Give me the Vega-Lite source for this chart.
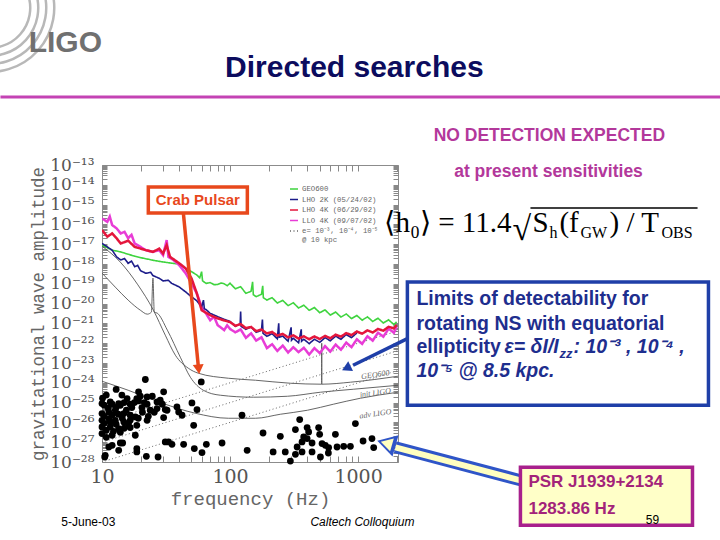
{
"$schema": "https://vega.github.io/schema/vega-lite/v6.json",
"width": 296, "height": 297,
"autosize": {"type": "none"},
"padding": {"left": 102, "top": 165, "right": 322, "bottom": 78},
"background": "white",
"config": {"view": {"stroke": "#8c8c8c", "strokeWidth": 1}},
"datasets": {
"rings": [{"ring":1,"f":1.34,"h":8.65e-6},{"ring":2,"f":1.34,"h":8.65e-6},{"ring":3,"f":1.34,"h":8.65e-6},{"ring":4,"f":1.34,"h":8.65e-6}],
"segments": [
{"kind":"header","f":1.61,"f2":6.76e5,"h":2.74e-10,"h2":2.74e-10},
{"kind":"overline","f":2.219e4,"f2":4.48e5,"h":6.7e-16,"h2":6.7e-16},
{"kind":"crab","f":43.2,"f2":56.5,"h":3.74e-16,"h2":6.89e-24},
{"kind":"ns","f":2563,"f2":914,"h":2.01e-22,"h2":7.74e-24},
{"kind":"psr","f":1.853e4,"f2":1956,"h":1.19e-29,"h2":5.53e-28}
],
"heads": [
{"kind":"crab","f":56.9,"h":4.86e-24},
{"kind":"ns","f":810,"h":5.46e-24},
{"kind":"psr","f":1664,"h":8.81e-28}
],
"boxes": [
{"kind":"crab","f":23.0,"f2":136.5,"h":7.73e-15,"h2":3.74e-16},
{"kind":"ns","f":2427,"f2":5.45e5,"h":1.22e-19,"h2":7.35e-26},
{"kind":"psr","f":1.853e4,"f2":4.09e5,"h":5.4e-29,"h2":6.3e-32}
],
"notes": [
{"kind":"logo","f":5.17,"h":1.47e-7,"text":"LIGO"},
{"kind":"title","f":935,"h":8.0e-9,"text":"Directed searches"},
{"kind":"headline","f":3.12e4,"h":2.92e-12,"text":"NO DETECTION EXPECTED"},
{"kind":"headline","f":3.07e4,"h":4.43e-14,"text":"at present sensitivities"},
{"kind":"formula","f":1605,"h":4.1e-17,"text":"⟨h₀⟩ = 11.4"},
{"kind":"formula","f":2.3e4,"h":4.1e-17,"text":"S"},
{"kind":"formula","f":3.739e4,"h":4.1e-17,"text":"(f"},
{"kind":"formula","f":9.19e4,"h":4.1e-17,"text":") / T"},
{"kind":"radical","f":1.605e4,"h":1.61e-17,"text":"√"},
{"kind":"fsub","f":3.123e4,"h":2.04e-17,"text":"h"},
{"kind":"fsub","f":5.453e4,"h":2.04e-17,"text":"GW"},
{"kind":"fsub","f":2.342e5,"h":2.04e-17,"text":"OBS"},
{"kind":"crab","f":56.0,"h":1.7e-15,"text":"Crab Pulsar"},
{"kind":"nsbold","f":2855,"h":8.36e-21,"text":"Limits of detectability for"},
{"kind":"nsbold","f":2855,"h":4.55e-22,"text":"rotating NS with equatorial"},
{"kind":"nsbold","f":2855,"h":3.13e-23,"text":"ellipticity"},
{"kind":"nsital","f":1.39e4,"h":3.13e-23,"text":"ε= δI/I"},
{"kind":"nsital","f":4.81e4,"h":3.13e-23,"text":": 10⁻³ , 10⁻⁴ ,"},
{"kind":"nsital","f":2855,"h":1.91e-24,"text":"10⁻⁵ @ 8.5 kpc."},
{"kind":"nssub","f":3.74e4,"h":1.75e-23,"text":"zz"},
{"kind":"psr","f":2.14e4,"h":5.26e-30,"text":"PSR J1939+2134"},
{"kind":"psr","f":2.14e4,"h":2.27e-31,"text":"1283.86 Hz"},
{"kind":"foot","f":7.82,"h":8.93e-32,"text":"5-June-03"},
{"kind":"foot","f":1.99e5,"h":1.13e-31,"text":"59"},
{"kind":"footi","f":1081,"h":8.93e-32,"text":"Caltech Colloquium"},
{"kind":"dlabel","f":1365,"h":2.42e-24,"text":"GEO600"},
{"kind":"dlabel","f":1365,"h":2.97e-25,"text":"init LIGO"},
{"kind":"dlabel","f":1365,"h":2.58e-26,"text":"adv LIGO"}
],
"design": [
{"curve":"geo","f":10,"h":8.0e-18},{"curve":"geo","f":13.9,"h":1.25e-18},{"curve":"geo","f":18.9,"h":9.6e-20},{"curve":"geo","f":25.2,"h":4.67e-21},{"curve":"geo","f":31.2,"h":2.54e-22},{"curve":"geo","f":37.4,"h":2.48e-23},{"curve":"geo","f":47.2,"h":5.46e-24},{"curve":"geo","f":56.5,"h":3.05e-24},{"curve":"geo","f":97,"h":1.7e-24},{"curve":"geo","f":158,"h":1.35e-24},{"curve":"geo","f":296,"h":9.5e-25},{"curve":"geo","f":517,"h":8.5e-25},{"curve":"geo","f":519,"h":8.5e-25},{"curve":"geo","f":520,"h":1e-22},{"curve":"geo","f":521,"h":8.5e-25},{"curve":"geo","f":871,"h":1.07e-24},{"curve":"geo","f":2050,"h":2.15e-24},
{"curve":"init","f":10,"h":3.47e-19},{"curve":"init","f":12.7,"h":6.79e-20},{"curve":"init","f":16,"h":1.5e-20},{"curve":"init","f":19.9,"h":4.67e-21},{"curve":"init","f":22.6,"h":2.93e-21},{"curve":"init","f":24.3,"h":3.7e-21},{"curve":"init","f":25.0,"h":1.94e-19},{"curve":"init","f":25.6,"h":3.7e-21},{"curve":"init","f":27,"h":3.3e-21},{"curve":"init","f":32.4,"h":4.55e-22},{"curve":"init","f":40.9,"h":1.96e-23},{"curve":"init","f":49,"h":1.91e-24},{"curve":"init","f":61.8,"h":4.22e-25},{"curve":"init","f":83.9,"h":2.36e-25},{"curve":"init","f":152,"h":1.87e-25},{"curve":"init","f":281,"h":2.09e-25},{"curve":"init","f":508,"h":3.34e-25},{"curve":"init","f":918,"h":4.73e-25},{"curve":"init","f":2050,"h":7.5e-25},
{"curve":"adv","f":10,"h":1.2e-24},{"curve":"adv","f":16,"h":4.22e-25},{"curve":"adv","f":29.6,"h":9.3e-26},{"curve":"adv","f":53.6,"h":2.9e-26},{"curve":"adv","f":97,"h":1.62e-26},{"curve":"adv","f":158,"h":1.62e-26},{"curve":"adv","f":247,"h":2.58e-26},{"curve":"adv","f":402,"h":4.11e-26},{"curve":"adv","f":640,"h":8.26e-26},{"curve":"adv","f":1042,"h":1.66e-25},{"curve":"adv","f":2050,"h":3.34e-25}
],
"curves": [
{"series":"e","curve":"e3","f":10,"h":1e-26},{"series":"e","curve":"e3","f":2050,"h":4.2e-22},
{"series":"e","curve":"e4","f":10,"h":1e-27},{"series":"e","curve":"e4","f":2050,"h":4.2e-23},
{"series":"e","curve":"e5","f":10,"h":1e-28},{"series":"e","curve":"e5","f":2050,"h":4.2e-24},
{"series":"G","f":10,"h":8.9e-18},{"series":"G","f":12,"h":5.0e-18},{"series":"G","f":14,"h":4.1e-18},{"series":"G","f":16,"h":3.1e-18},{"series":"G","f":18,"h":2.5e-18},{"series":"G","f":20,"h":2.1e-18},{"series":"G","f":25,"h":1.55e-18},{"series":"G","f":30,"h":1.27e-18},{"series":"G","f":35,"h":1.1e-18},{"series":"G","f":40,"h":1.0e-18},{"series":"G","f":45,"h":6.0e-19},{"series":"G","f":50,"h":4.1e-19},{"series":"G","f":55,"h":2.8e-19},{"series":"G","f":58,"h":2.0e-19},{"series":"G","f":60,"h":4.1e-19},{"series":"G","f":61,"h":1.4e-19},{"series":"G","f":65,"h":1.05e-19},{"series":"G","f":70,"h":1.15e-19},{"series":"G","f":75,"h":9e-20},{"series":"G","f":80,"h":9.2e-20},{"series":"G","f":85,"h":1.1e-19},{"series":"G","f":90,"h":1.0e-19},{"series":"G","f":95,"h":8e-20},{"series":"G","f":100,"h":1.07e-19},{"series":"G","f":110,"h":5.6e-20},{"series":"G","f":121,"h":7.1e-20},{"series":"G","f":133,"h":3.3e-20},{"series":"G","f":146,"h":4.2e-20},{"series":"G","f":150,"h":1.26e-19},{"series":"G","f":152,"h":2.8e-20},{"series":"G","f":160,"h":2.24e-20},{"series":"G","f":176,"h":2.95e-20},{"series":"G","f":180,"h":7.9e-20},{"series":"G","f":182,"h":2.0e-20},{"series":"G","f":194,"h":1.51e-20},{"series":"G","f":213,"h":2.0e-20},{"series":"G","f":234,"h":1.07e-20},{"series":"G","f":258,"h":1.45e-20},{"series":"G","f":284,"h":7.9e-21},{"series":"G","f":312,"h":1.1e-20},{"series":"G","f":343,"h":6.0e-21},{"series":"G","f":377,"h":8.3e-21},{"series":"G","f":415,"h":4.57e-21},{"series":"G","f":456,"h":6.3e-21},{"series":"G","f":502,"h":3.47e-21},{"series":"G","f":552,"h":4.8e-21},{"series":"G","f":607,"h":2.63e-21},{"series":"G","f":668,"h":3.72e-21},{"series":"G","f":735,"h":2.09e-21},{"series":"G","f":808,"h":3.0e-21},{"series":"G","f":889,"h":1.74e-21},{"series":"G","f":978,"h":2.51e-21},{"series":"G","f":1076,"h":1.45e-21},{"series":"G","f":1183,"h":2.14e-21},{"series":"G","f":1301,"h":1.26e-21},{"series":"G","f":1431,"h":1.82e-21},{"series":"G","f":1575,"h":1.05e-21},{"series":"G","f":1732,"h":1.51e-21},{"series":"G","f":1905,"h":8.7e-22},{"series":"G","f":2000,"h":1.2e-21},
{"series":"L4","f":10,"h":2.0e-16},{"series":"L4","f":11,"h":1.35e-16},{"series":"L4","f":11.5,"h":2.5e-16},{"series":"L4","f":12,"h":9.3e-17},{"series":"L4","f":13,"h":6.3e-17},{"series":"L4","f":14,"h":3.5e-17},{"series":"L4","f":15,"h":4.2e-17},{"series":"L4","f":16,"h":2.0e-17},{"series":"L4","f":17,"h":3.0e-17},{"series":"L4","f":18,"h":1.08e-17},{"series":"L4","f":20,"h":7.3e-18},{"series":"L4","f":22,"h":5.0e-18},{"series":"L4","f":25,"h":4.1e-18},{"series":"L4","f":28,"h":5.0e-18},{"series":"L4","f":30,"h":2.8e-18},{"series":"L4","f":32,"h":1.6e-17},{"series":"L4","f":33,"h":2.3e-18},{"series":"L4","f":36,"h":1.6e-18},{"series":"L4","f":40,"h":8.9e-19},{"series":"L4","f":45,"h":3.4e-19},{"series":"L4","f":50,"h":1.05e-19},{"series":"L4","f":55,"h":3.3e-20},{"series":"L4","f":60,"h":6.8e-21},{"series":"L4","f":65,"h":3.1e-21},{"series":"L4","f":70,"h":1.45e-21},{"series":"L4","f":75,"h":2.2e-21},{"series":"L4","f":80,"h":8.2e-22},{"series":"L4","f":90,"h":4.6e-22},{"series":"L4","f":95,"h":8e-22},{"series":"L4","f":100,"h":5.25e-22},{"series":"L4","f":110,"h":3.55e-22},{"series":"L4","f":121,"h":5.0e-22},{"series":"L4","f":133,"h":1.86e-22},{"series":"L4","f":146,"h":3.16e-22},{"series":"L4","f":160,"h":1.35e-22},{"series":"L4","f":176,"h":2.0e-22},{"series":"L4","f":194,"h":5.62e-23},{"series":"L4","f":213,"h":8.9e-23},{"series":"L4","f":234,"h":4.07e-23},{"series":"L4","f":258,"h":7.6e-23},{"series":"L4","f":284,"h":3.39e-23},{"series":"L4","f":312,"h":6.3e-23},{"series":"L4","f":343,"h":3.55e-23},{"series":"L4","f":377,"h":5.9e-23},{"series":"L4","f":415,"h":2.69e-23},{"series":"L4","f":456,"h":5.62e-23},{"series":"L4","f":502,"h":3.16e-23},{"series":"L4","f":552,"h":7.08e-23},{"series":"L4","f":607,"h":3.8e-23},{"series":"L4","f":668,"h":8.5e-23},{"series":"L4","f":735,"h":4.68e-23},{"series":"L4","f":808,"h":1.07e-22},{"series":"L4","f":889,"h":6.3e-23},{"series":"L4","f":978,"h":1.58e-22},{"series":"L4","f":1076,"h":9.3e-23},{"series":"L4","f":1183,"h":2.24e-22},{"series":"L4","f":1301,"h":1.35e-22},{"series":"L4","f":1431,"h":3.39e-22},{"series":"L4","f":1575,"h":2.14e-22},{"series":"L4","f":1732,"h":5.37e-22},{"series":"L4","f":1905,"h":3.39e-22},{"series":"L4","f":2000,"h":6.76e-22},
{"series":"H2","f":10,"h":1.1e-17},{"series":"H2","f":11,"h":7.3e-18},{"series":"H2","f":12,"h":5.0e-18},{"series":"H2","f":13,"h":2.3e-18},{"series":"H2","f":14,"h":1.6e-18},{"series":"H2","f":15,"h":1.9e-18},{"series":"H2","f":16,"h":1.08e-18},{"series":"H2","f":17,"h":1.4e-18},{"series":"H2","f":18,"h":7.3e-19},{"series":"H2","f":19,"h":8.5e-19},{"series":"H2","f":20,"h":4.6e-19},{"series":"H2","f":22,"h":3.4e-19},{"series":"H2","f":24,"h":3.8e-19},{"series":"H2","f":25,"h":2.6e-19},{"series":"H2","f":28,"h":1.9e-19},{"series":"H2","f":30,"h":1.4e-19},{"series":"H2","f":33,"h":1.5e-19},{"series":"H2","f":35,"h":1.05e-19},{"series":"H2","f":40,"h":7.0e-20},{"series":"H2","f":45,"h":3.9e-20},{"series":"H2","f":50,"h":2.2e-20},{"series":"H2","f":55,"h":1.4e-20},{"series":"H2","f":60,"h":6.8e-21},{"series":"H2","f":62,"h":1.5e-20},{"series":"H2","f":63,"h":5.5e-21},{"series":"H2","f":65,"h":5.0e-21},{"series":"H2","f":70,"h":3.2e-21},{"series":"H2","f":80,"h":2.2e-21},{"series":"H2","f":90,"h":1.6e-21},{"series":"H2","f":100,"h":1.26e-21},{"series":"H2","f":110,"h":7.08e-22},{"series":"H2","f":120,"h":9.5e-22},{"series":"H2","f":121,"h":4.0e-21},{"series":"H2","f":122,"h":7.1e-22},{"series":"H2","f":133,"h":5.0e-22},{"series":"H2","f":146,"h":6.6e-22},{"series":"H2","f":160,"h":3.55e-22},{"series":"H2","f":176,"h":4.47e-22},{"series":"H2","f":179,"h":1.58e-21},{"series":"H2","f":181,"h":3.16e-22},{"series":"H2","f":194,"h":2.24e-22},{"series":"H2","f":213,"h":3.02e-22},{"series":"H2","f":234,"h":1.66e-22},{"series":"H2","f":240,"h":1.0e-21},{"series":"H2","f":242,"h":2.0e-22},{"series":"H2","f":258,"h":2.29e-22},{"series":"H2","f":284,"h":1.26e-22},{"series":"H2","f":300,"h":6.3e-22},{"series":"H2","f":302,"h":1.41e-22},{"series":"H2","f":312,"h":1.78e-22},{"series":"H2","f":343,"h":1.05e-22},{"series":"H2","f":360,"h":5.0e-22},{"series":"H2","f":362,"h":1.26e-22},{"series":"H2","f":377,"h":1.58e-22},{"series":"H2","f":415,"h":9.5e-23},{"series":"H2","f":456,"h":1.58e-22},{"series":"H2","f":502,"h":1.1e-22},{"series":"H2","f":552,"h":1.91e-22},{"series":"H2","f":607,"h":1.32e-22},{"series":"H2","f":668,"h":2.29e-22},{"series":"H2","f":735,"h":1.58e-22},{"series":"H2","f":808,"h":2.75e-22},{"series":"H2","f":889,"h":1.91e-22},{"series":"H2","f":978,"h":3.31e-22},
{"series":"H4","f":10,"h":5.2e-17},{"series":"H4","f":11,"h":2.4e-17},{"series":"H4","f":12,"h":3.5e-17},{"series":"H4","f":13,"h":2.0e-17},{"series":"H4","f":14,"h":1.08e-17},{"series":"H4","f":16,"h":1.5e-17},{"series":"H4","f":18,"h":7.3e-18},{"series":"H4","f":20,"h":6.0e-18},{"series":"H4","f":22,"h":5.0e-18},{"series":"H4","f":25,"h":4.1e-18},{"series":"H4","f":28,"h":6.0e-18},{"series":"H4","f":30,"h":3.4e-18},{"series":"H4","f":32,"h":9e-18},{"series":"H4","f":34,"h":2.3e-18},{"series":"H4","f":40,"h":1.1e-18},{"series":"H4","f":45,"h":6.0e-19},{"series":"H4","f":50,"h":1.9e-19},{"series":"H4","f":55,"h":3.3e-20},{"series":"H4","f":60,"h":4.6e-21},{"series":"H4","f":70,"h":2.6e-21},{"series":"H4","f":80,"h":1.8e-21},{"series":"H4","f":90,"h":1.4e-21},{"series":"H4","f":100,"h":1.17e-21},{"series":"H4","f":110,"h":7.6e-22},{"series":"H4","f":121,"h":9.3e-22},{"series":"H4","f":133,"h":5.75e-22},{"series":"H4","f":146,"h":6.6e-22},{"series":"H4","f":160,"h":4.07e-22},{"series":"H4","f":176,"h":4.9e-22},{"series":"H4","f":194,"h":3.09e-22},{"series":"H4","f":213,"h":3.7e-22},{"series":"H4","f":234,"h":2.4e-22},{"series":"H4","f":258,"h":2.95e-22},{"series":"H4","f":284,"h":1.95e-22},{"series":"H4","f":312,"h":2.51e-22},{"series":"H4","f":343,"h":1.7e-22},{"series":"H4","f":377,"h":2.24e-22},{"series":"H4","f":415,"h":1.58e-22},{"series":"H4","f":456,"h":2.19e-22},{"series":"H4","f":502,"h":1.62e-22},{"series":"H4","f":552,"h":2.34e-22},{"series":"H4","f":607,"h":1.78e-22},{"series":"H4","f":668,"h":2.69e-22},{"series":"H4","f":735,"h":2.14e-22},{"series":"H4","f":808,"h":3.24e-22},{"series":"H4","f":889,"h":2.57e-22},{"series":"H4","f":978,"h":3.89e-22},{"series":"H4","f":1076,"h":3.02e-22},{"series":"H4","f":1183,"h":4.47e-22},{"series":"H4","f":1301,"h":3.47e-22},{"series":"H4","f":1431,"h":5.25e-22},{"series":"H4","f":1575,"h":4.27e-22},{"series":"H4","f":1732,"h":6.76e-22},{"series":"H4","f":1905,"h":5.62e-22},{"series":"H4","f":2000,"h":8.3e-22}
],
"pulsars": [
{"f":21.8,"h":1.47e-24},{"f":59.6,"h":1.11e-24},{"f":12.9,"h":4.6e-25},{"f":19.3,"h":3.5e-25},{"f":30.3,"h":3.5e-25},{"f":14.3,"h":2.4e-25},{"f":15.7,"h":1.6e-25},{"f":10.0,"h":8.96e-26},{"f":11.6,"h":1.08e-25},{"f":13.5,"h":8.96e-26},{"f":19.3,"h":1.21e-25},{"f":22.5,"h":8.26e-26},{"f":26.9,"h":1.08e-25},{"f":28.5,"h":1.32e-25},{"f":50.4,"h":9.6e-26},{"f":38.5,"h":6.04e-26},{"f":55.2,"h":4.46e-26},{"f":31.2,"h":4.46e-26},{"f":17.1,"h":5.62e-26},{"f":20.5,"h":5.62e-26},{"f":23.8,"h":4.11e-26},{"f":26.9,"h":5.0e-26},{"f":39.7,"h":3.37e-26},{"f":10.0,"h":2.8e-26},{"f":11.3,"h":3.37e-26},{"f":12.7,"h":4.11e-26},{"f":14.8,"h":2.8e-26},{"f":16.6,"h":2.3e-26},{"f":18.2,"h":1.88e-26},{"f":30.3,"h":1.76e-26},{"f":22.5,"h":1.28e-26},{"f":124,"h":2.3e-26},{"f":10.0,"h":1.28e-26},{"f":11.3,"h":1.56e-26},{"f":12.7,"h":1.28e-26},{"f":14.8,"h":1.05e-26},{"f":16.1,"h":8.7e-27},{"f":18.7,"h":7.16e-27},{"f":10.0,"h":5.89e-27},{"f":11.6,"h":5.89e-27},{"f":13.5,"h":4.89e-27},{"f":52.0,"h":7.16e-27},{"f":10.0,"h":2.73e-27},{"f":12.0,"h":2.24e-27},{"f":18.2,"h":2.24e-27},{"f":33.1,"h":1.03e-27},{"f":35.2,"h":7.85e-28},{"f":43.4,"h":7.85e-28},{"f":65.3,"h":7.85e-28},{"f":86.6,"h":9.1e-28},{"f":11.3,"h":5.73e-28},{"f":12.0,"h":6.98e-28},{"f":14.5,"h":9.1e-28},{"f":13.5,"h":3.9e-28},{"f":18.7,"h":3.21e-28},{"f":52.6,"h":4.75e-28},{"f":60.4,"h":2.99e-28},{"f":136,"h":3.9e-28},{"f":10.5,"h":1.79e-28},{"f":22.2,"h":1.94e-28},{"f":27.4,"h":1.79e-28},
{"f":350,"h":1.39e-26},{"f":953,"h":8.7e-27},{"f":181,"h":2.92e-27},{"f":247,"h":1.99e-27},{"f":324,"h":4.35e-27},{"f":400,"h":5.48e-27},{"f":411,"h":3.29e-27},{"f":492,"h":5.48e-27},{"f":376,"h":1.84e-27},{"f":400,"h":1.52e-27},{"f":501,"h":2.51e-27},{"f":665,"h":2.51e-27},{"f":365,"h":1.03e-27},{"f":437,"h":9.1e-28},{"f":523,"h":8.5e-28},{"f":555,"h":6.98e-28},{"f":589,"h":5.35e-28},{"f":685,"h":5.73e-28},{"f":772,"h":6.22e-28},{"f":871,"h":6.22e-28},{"f":1094,"h":1.15e-27},{"f":1283.86,"h":1.52e-27},{"f":1324,"h":5.35e-28},{"f":334,"h":5.73e-28},{"f":365,"h":3.21e-28},{"f":324,"h":2.45e-28},{"f":437,"h":3.21e-28},{"f":508,"h":1.79e-28},{"f":586,"h":2.85e-28},{"f":217,"h":3.21e-28},{"f":270,"h":3.21e-28},{"f":296,"h":1.12e-28},
{"f":18.7,"h":1.6e-25},{"f":22.5,"h":1.93e-25},{"f":32.2,"h":4.11e-26},{"f":42.2,"h":2.3e-26},{"f":31.2,"h":1.03e-27},{"f":18.7,"h":4.75e-28},{"f":13.9,"h":9.1e-28},{"f":10.6,"h":2.18e-28},{"f":10.1,"h":1.66e-25},{"f":10.8,"h":2.4e-25},{"f":10.4,"h":7.36e-26},{"f":11.2,"h":5.19e-26},{"f":12.0,"h":8.26e-26},{"f":12.9,"h":5.8e-26},{"f":13.9,"h":7.36e-26},{"f":14.9,"h":1.0e-25},{"f":10.4,"h":2.04e-26},{"f":12.0,"h":2.3e-26},{"f":13.4,"h":2.58e-26},{"f":14.4,"h":1.62e-26},{"f":15.5,"h":4.11e-26},{"f":16.6,"h":8.26e-26},{"f":17.9,"h":1.0e-25},{"f":19.9,"h":2.09e-25},{"f":21.4,"h":1.0e-25},{"f":24.7,"h":2.09e-25},{"f":29.6,"h":8.26e-26},{"f":10.4,"h":9.0e-27},{"f":11.6,"h":1.02e-26},{"f":12.9,"h":8.05e-27},{"f":10.8,"h":4.01e-27},{"f":12.3,"h":3.56e-27},{"f":14.9,"h":5.06e-27},{"f":16.6,"h":5.5e-27},{"f":13.9,"h":3.18e-27},{"f":10.8,"h":1.77e-27},{"f":20.7,"h":3.26e-26},{"f":23.0,"h":2.04e-26},{"f":25.6,"h":3.26e-26},{"f":16.6,"h":1.28e-26},{"f":19.2,"h":1.62e-26}
]
},
"encoding": {
"x": {"field": "f", "type": "quantitative", "scale": {"type": "log", "domain": [10, 2050], "nice": false}, "axis": null},
"y": {"field": "h", "type": "quantitative", "scale": {"type": "log", "domain": [1e-28, 1e-13], "nice": false}, "axis": null}
},
"resolve": {"axis": {"x": "independent", "y": "independent"}},
"layer": [
{"data": {"name": "rings"}, "mark": {"type": "arc", "theta": 1.2, "theta2": 3.4, "filled": false, "color": "#b8b8b8", "strokeWidth": 2.5},
 "encoding": {"radius": {"field": "ring", "type": "quantitative", "scale": {"type": "linear", "zero": false, "domain": [1, 4], "range": [40, 64]}}, "radius2": {"field": "ring"}}},
{"data": {"name": "segments"}, "transform": [{"filter": "datum.kind == 'header'"}], "mark": {"type": "rule", "color": "#c443b4", "strokeWidth": 3}, "encoding": {"x2": {"field": "f2"}, "y2": {"field": "h2"}}},
{"data": {"name": "notes"}, "transform": [{"filter": "datum.kind == 'logo'"}], "mark": {"type": "text", "font": "Liberation Sans", "fontWeight": "bold", "fontSize": 30, "color": "#707070", "align": "center", "baseline": "middle"}, "encoding": {"text": {"field": "text"}}},
{"data": {"name": "notes"}, "transform": [{"filter": "datum.kind == 'title'"}], "mark": {"type": "text", "font": "Liberation Sans", "fontWeight": "bold", "fontSize": 30, "color": "#0c0c5e", "align": "center", "baseline": "middle"}, "encoding": {"text": {"field": "text"}}},
{"data": {"name": "notes"}, "transform": [{"filter": "datum.kind == 'headline'"}], "mark": {"type": "text", "font": "Liberation Sans", "fontWeight": "bold", "fontSize": 17.5, "color": "#b3389b", "align": "center", "baseline": "middle"}, "encoding": {"text": {"field": "text"}}},
{"data": {"name": "notes"}, "transform": [{"filter": "datum.kind == 'formula'"}], "mark": {"type": "text", "font": "Liberation Serif", "fontSize": 29, "color": "black", "align": "left", "baseline": "alphabetic"}, "encoding": {"text": {"field": "text"}}},
{"data": {"name": "notes"}, "transform": [{"filter": "datum.kind == 'radical'"}], "mark": {"type": "text", "font": "Liberation Serif", "fontSize": 34, "color": "black", "align": "left", "baseline": "alphabetic"}, "encoding": {"text": {"field": "text"}}},
{"data": {"name": "notes"}, "transform": [{"filter": "datum.kind == 'fsub'"}], "mark": {"type": "text", "font": "Liberation Serif", "fontSize": 16, "color": "black", "align": "left", "baseline": "alphabetic"}, "encoding": {"text": {"field": "text"}}},
{"data": {"name": "segments"}, "transform": [{"filter": "datum.kind == 'overline'"}], "mark": {"type": "rule", "color": "black", "strokeWidth": 1.5}, "encoding": {"x2": {"field": "f2"}, "y2": {"field": "h2"}}},
{"data": {"name": "design"}, "mark": {"type": "line", "color": "#555555", "strokeWidth": 0.9, "interpolate": "monotone", "clip": true},
 "encoding": {
  "x": {"field": "f", "type": "quantitative", "scale": {"type": "log", "domain": [10, 2050], "nice": false},
        "axis": {"orient": "top", "values": [10,20,30,40,50,60,70,80,90,100,200,300,400,500,600,700,800,900,1000,2000], "tickCount": 100, "labels": false, "tickSize": -6, "tickColor": "#888", "domain": false, "grid": false, "title": null}},
  "y": {"field": "h", "type": "quantitative", "scale": {"type": "log", "domain": [1e-28, 1e-13], "nice": false},
        "axis": {"orient": "right", "values": [1e-28,2e-28,3e-28,4e-28,5e-28,6e-28,7e-28,8e-28,9e-28,1e-27,2e-27,3e-27,4e-27,5e-27,6e-27,7e-27,8e-27,9e-27,1e-26,2e-26,3e-26,4e-26,5e-26,6e-26,7e-26,8e-26,9e-26,1e-25,2e-25,3e-25,4e-25,5e-25,6e-25,7e-25,8e-25,9e-25,1e-24,2e-24,3e-24,4e-24,5e-24,6e-24,7e-24,8e-24,9e-24,1e-23,2e-23,3e-23,4e-23,5e-23,6e-23,7e-23,8e-23,9e-23,1e-22,2e-22,3e-22,4e-22,5e-22,6e-22,7e-22,8e-22,9e-22,1e-21,2e-21,3e-21,4e-21,5e-21,6e-21,7e-21,8e-21,9e-21,1e-20,2e-20,3e-20,4e-20,5e-20,6e-20,7e-20,8e-20,9e-20,1e-19,2e-19,3e-19,4e-19,5e-19,6e-19,7e-19,8e-19,9e-19,1e-18,2e-18,3e-18,4e-18,5e-18,6e-18,7e-18,8e-18,9e-18,1e-17,2e-17,3e-17,4e-17,5e-17,6e-17,7e-17,8e-17,9e-17,1e-16,2e-16,3e-16,4e-16,5e-16,6e-16,7e-16,8e-16,9e-16,1e-15,2e-15,3e-15,4e-15,5e-15,6e-15,7e-15,8e-15,9e-15,1e-14,2e-14,3e-14,4e-14,5e-14,6e-14,7e-14,8e-14,9e-14,1e-13], "tickCount": 300, "labels": false, "tickSize": -5, "tickColor": "#888", "domain": false, "grid": false, "title": null}},
  "detail": {"field": "curve"}}},
{"data": {"name": "curves"}, "mark": {"type": "line", "clip": true},
 "encoding": {
  "x": {"field": "f", "type": "quantitative", "scale": {"type": "log", "domain": [10, 2050], "nice": false},
        "axis": {"orient": "bottom", "values": [10,20,30,40,50,60,70,80,90,100,200,300,400,500,600,700,800,900,1000,2000], "tickCount": 100, "labelExpr": "datum.value == 10 || datum.value == 100 || datum.value == 1000 ? '' + datum.value : ''", "labelFont": "DejaVu Serif", "labelFontSize": 19, "labelColor": "#555", "labelPadding": 11, "labelFlush": false, "labelOverlap": false, "tickSize": -6, "tickColor": "#888", "domain": false, "grid": false, "title": "frequency (Hz)", "titleFont": "Liberation Mono", "titleFontSize": 19, "titleFontWeight": "normal", "titleColor": "#666", "titlePadding": 3}},
  "y": {"field": "h", "type": "quantitative", "scale": {"type": "log", "domain": [1e-28, 1e-13], "nice": false},
        "axis": {"orient": "left", "values": [1e-28,2e-28,3e-28,4e-28,5e-28,6e-28,7e-28,8e-28,9e-28,1e-27,2e-27,3e-27,4e-27,5e-27,6e-27,7e-27,8e-27,9e-27,1e-26,2e-26,3e-26,4e-26,5e-26,6e-26,7e-26,8e-26,9e-26,1e-25,2e-25,3e-25,4e-25,5e-25,6e-25,7e-25,8e-25,9e-25,1e-24,2e-24,3e-24,4e-24,5e-24,6e-24,7e-24,8e-24,9e-24,1e-23,2e-23,3e-23,4e-23,5e-23,6e-23,7e-23,8e-23,9e-23,1e-22,2e-22,3e-22,4e-22,5e-22,6e-22,7e-22,8e-22,9e-22,1e-21,2e-21,3e-21,4e-21,5e-21,6e-21,7e-21,8e-21,9e-21,1e-20,2e-20,3e-20,4e-20,5e-20,6e-20,7e-20,8e-20,9e-20,1e-19,2e-19,3e-19,4e-19,5e-19,6e-19,7e-19,8e-19,9e-19,1e-18,2e-18,3e-18,4e-18,5e-18,6e-18,7e-18,8e-18,9e-18,1e-17,2e-17,3e-17,4e-17,5e-17,6e-17,7e-17,8e-17,9e-17,1e-16,2e-16,3e-16,4e-16,5e-16,6e-16,7e-16,8e-16,9e-16,1e-15,2e-15,3e-15,4e-15,5e-15,6e-15,7e-15,8e-15,9e-15,1e-14,2e-14,3e-14,4e-14,5e-14,6e-14,7e-14,8e-14,9e-14,1e-13], "tickCount": 300,
          "labelExpr": "abs(log(datum.value)/LN10 - round(log(datum.value)/LN10)) < 0.01 ? '10' + ['⁻¹³','⁻¹⁴','⁻¹⁵','⁻¹⁶','⁻¹⁷','⁻¹⁸','⁻¹⁹','⁻²⁰','⁻²¹','⁻²²','⁻²³','⁻²⁴','⁻²⁵','⁻²⁶','⁻²⁷','⁻²⁸'][-round(log(datum.value)/LN10) - 13] : ''",
          "labelFont": "DejaVu Serif", "labelFontSize": 17, "labelColor": "#555", "labelPadding": 13, "labelOverlap": false, "labelFlush": false, "labelBaseline": "middle", "tickSize": -5, "tickColor": "#888", "domain": false, "grid": false, "title": "gravitational wave amplitude", "titleFont": "Liberation Mono", "titleFontSize": 17.5, "titleFontWeight": "normal", "titleColor": "#666", "titlePadding": 2}},
  "color": {"field": "series", "type": "nominal", "scale": {"domain": ["G", "H2", "H4", "L4", "e"], "range": ["#3fd43f", "#1c1c8a", "#e4163c", "#e83cd6", "#666666"]},
            "legend": {"title": null, "orient": "top-right", "offset": 18, "padding": 1, "labelFont": "Liberation Mono", "labelFontSize": 7.3, "labelColor": "#666", "symbolType": "stroke", "symbolSize": 64, "symbolStrokeWidth": 1.6, "rowPadding": 1.5, "labelOffset": 3, "labelLimit": 200,
                       "labelExpr": "datum.label == 'G' ? 'GEO600' : datum.label == 'H2' ? 'LHO 2K (05/24/02)' : datum.label == 'H4' ? 'LHO 4K (06/29/02)' : datum.label == 'L4' ? 'LLO 4K (09/07/02)' : ['e= 10⁻³, 10⁻⁴, 10⁻⁵', '   @ 10 kpc']"}},
  "strokeDash": {"field": "series", "type": "nominal", "scale": {"domain": ["G", "H2", "H4", "L4", "e"], "range": [[1, 0], [1, 0], [1, 0], [1, 0], [1, 2.5]]},
            "legend": {"title": null, "orient": "top-right", "offset": 18, "padding": 1, "labelFont": "Liberation Mono", "labelFontSize": 7.3, "labelColor": "#666", "symbolType": "stroke", "symbolSize": 64, "symbolStrokeWidth": 1.6, "rowPadding": 1.5, "labelOffset": 3, "labelLimit": 200,
                       "labelExpr": "datum.label == 'G' ? 'GEO600' : datum.label == 'H2' ? 'LHO 2K (05/24/02)' : datum.label == 'H4' ? 'LHO 4K (06/29/02)' : datum.label == 'L4' ? 'LLO 4K (09/07/02)' : ['e= 10⁻³, 10⁻⁴, 10⁻⁵', '   @ 10 kpc']"}},
  "strokeWidth": {"condition": [{"test": "datum.series == 'e'", "value": 1}, {"test": "datum.series == 'H4' || datum.series == 'L4'", "value": 2.5}], "value": 1.6},
  "detail": {"field": "curve"}}},
{"data": {"name": "notes"}, "transform": [{"filter": "datum.kind == 'dlabel'"}], "mark": {"type": "text", "font": "Liberation Serif", "fontStyle": "italic", "fontSize": 8, "color": "#666", "angle": -8, "align": "center", "baseline": "middle"}, "encoding": {"text": {"field": "text"}}},
{"data": {"name": "pulsars"}, "mark": {"type": "point", "shape": "circle", "filled": true, "color": "black", "opacity": 1, "size": 46}},
{"data": {"name": "segments"}, "transform": [{"filter": "datum.kind == 'crab'"}], "mark": {"type": "rule", "color": "#e8481c", "strokeWidth": 3.5}, "encoding": {"x2": {"field": "f2"}, "y2": {"field": "h2"}}},
{"data": {"name": "heads"}, "transform": [{"filter": "datum.kind == 'crab'"}], "mark": {"type": "point", "shape": "triangle-down", "angle": -6, "filled": true, "color": "#e8481c", "opacity": 1, "size": 120}},
{"data": {"name": "boxes"}, "transform": [{"filter": "datum.kind == 'crab'"}], "mark": {"type": "rect", "fill": "white", "stroke": "#e8481c", "strokeWidth": 3.5}, "encoding": {"x2": {"field": "f2"}, "y2": {"field": "h2"}}},
{"data": {"name": "notes"}, "transform": [{"filter": "datum.kind == 'crab'"}], "mark": {"type": "text", "font": "Liberation Sans", "fontWeight": "bold", "fontSize": 15, "color": "#e8481c", "align": "center", "baseline": "middle"}, "encoding": {"text": {"field": "text"}}},
{"data": {"name": "segments"}, "transform": [{"filter": "datum.kind == 'ns'"}], "mark": {"type": "rule", "color": "#1f3fa8", "strokeWidth": 3.5}, "encoding": {"x2": {"field": "f2"}, "y2": {"field": "h2"}}},
{"data": {"name": "heads"}, "transform": [{"filter": "datum.kind == 'ns'"}], "mark": {"type": "point", "shape": "triangle-left", "angle": -26, "filled": true, "color": "#1f3fa8", "opacity": 1, "size": 120}},
{"data": {"name": "boxes"}, "transform": [{"filter": "datum.kind == 'ns'"}], "mark": {"type": "rect", "fill": "white", "stroke": "#1f3fa8", "strokeWidth": 3.5}, "encoding": {"x2": {"field": "f2"}, "y2": {"field": "h2"}}},
{"data": {"name": "notes"}, "transform": [{"filter": "datum.kind == 'nsbold'"}], "mark": {"type": "text", "font": "Liberation Sans", "fontWeight": "bold", "fontSize": 19.5, "color": "#1e2e8e", "align": "left", "baseline": "alphabetic"}, "encoding": {"text": {"field": "text"}}},
{"data": {"name": "notes"}, "transform": [{"filter": "datum.kind == 'nsital'"}], "mark": {"type": "text", "font": "Liberation Sans", "fontWeight": "bold", "fontStyle": "italic", "fontSize": 19.5, "color": "#1e2e8e", "align": "left", "baseline": "alphabetic"}, "encoding": {"text": {"field": "text"}}},
{"data": {"name": "notes"}, "transform": [{"filter": "datum.kind == 'nssub'"}], "mark": {"type": "text", "font": "Liberation Sans", "fontWeight": "bold", "fontStyle": "italic", "fontSize": 13, "color": "#1e2e8e", "align": "left", "baseline": "alphabetic"}, "encoding": {"text": {"field": "text"}}},
{"data": {"name": "segments"}, "transform": [{"filter": "datum.kind == 'psr'"}], "mark": {"type": "rule", "color": "#2f55c8", "strokeWidth": 12, "strokeCap": "butt"}, "encoding": {"x2": {"field": "f2"}, "y2": {"field": "h2"}}},
{"data": {"name": "segments"}, "transform": [{"filter": "datum.kind == 'psr'"}], "mark": {"type": "rule", "color": "#ffffc0", "strokeWidth": 6, "strokeCap": "butt"}, "encoding": {"x2": {"field": "f2"}, "y2": {"field": "h2"}}},
{"data": {"name": "heads"}, "transform": [{"filter": "datum.kind == 'psr'"}], "mark": {"type": "point", "shape": "triangle-left", "angle": 16, "filled": true, "color": "#2f55c8", "opacity": 1, "size": 480}},
{"data": {"name": "heads"}, "transform": [{"filter": "datum.kind == 'psr'"}], "mark": {"type": "point", "shape": "triangle-left", "angle": 16, "filled": true, "color": "#ffffc0", "opacity": 1, "size": 180}},
{"data": {"name": "boxes"}, "transform": [{"filter": "datum.kind == 'psr'"}], "mark": {"type": "rect", "fill": "#ffffc8", "stroke": "#a8208c", "strokeWidth": 3.5}, "encoding": {"x2": {"field": "f2"}, "y2": {"field": "h2"}}},
{"data": {"name": "notes"}, "transform": [{"filter": "datum.kind == 'psr'"}], "mark": {"type": "text", "font": "Liberation Sans", "fontWeight": "bold", "fontSize": 17, "color": "#a3237a", "align": "left", "baseline": "alphabetic"}, "encoding": {"text": {"field": "text"}}},
{"data": {"name": "notes"}, "transform": [{"filter": "datum.kind == 'foot'"}], "mark": {"type": "text", "font": "Liberation Sans", "fontSize": 12, "color": "black", "align": "center", "baseline": "middle"}, "encoding": {"text": {"field": "text"}}},
{"data": {"name": "notes"}, "transform": [{"filter": "datum.kind == 'footi'"}], "mark": {"type": "text", "font": "Liberation Sans", "fontStyle": "italic", "fontSize": 12, "color": "black", "align": "center", "baseline": "middle"}, "encoding": {"text": {"field": "text"}}}
]
}
